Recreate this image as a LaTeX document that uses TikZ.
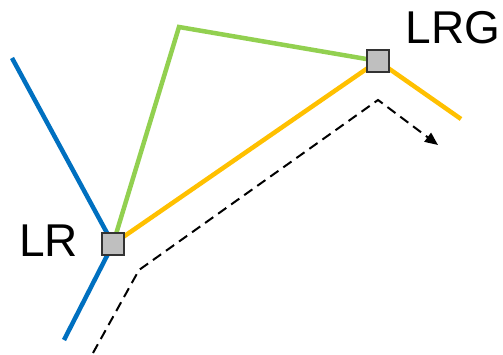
\documentclass[tikz,border=0pt]{standalone}
\usepackage{fontspec}
\setmainfont{Liberation Sans}
\usetikzlibrary{arrows.meta,backgrounds}
\definecolor{lblue}{HTML}{0070C0}
\definecolor{lgreen}{HTML}{92D050}
\definecolor{lorange}{HTML}{FFC000}
\definecolor{lgray}{HTML}{BFBFBF}
\begin{document}
\begin{tikzpicture}[x=1pt,y=-1pt,
  router/.style={draw=black!80,fill=lgray,line width=1.2pt,minimum size=22pt,inner sep=0pt},
  route/.style={line width=4.5pt},
  lbl/.style={font=\fontsize{46}{46}\selectfont,inner sep=0pt},
  flow/.style={line width=2pt,dash pattern=on 10pt off 6pt,-{Triangle[length=13pt,width=11pt]}}]
\useasboundingbox (0,0) rectangle (503,355);
\node[router] (lr) at (113,244) {};
\node[router] (lrg) at (378,61) {};
\node[lbl] (lrlabel) at (48.5,241) {LR};
\node[lbl] (lrglabel) at (453,28) {LRG};
\coordinate (b1) at (12,58);
\coordinate (b2) at (64,340);
\coordinate (g1) at (179,27);
\coordinate (o1) at (461,119);
\coordinate (d1) at (93,353);
\coordinate (d2) at (139,270);
\coordinate (d3) at (378,100);
\coordinate (d4) at (438,145);
\begin{pgfonlayer}{background}
\draw[route,lblue] (b1) -- (lr.center) -- (b2);
\draw[route,lgreen] (lr.center) -- (g1) -- (lrg.center);
\draw[route,lorange] (lr.center) -- (lrg.center) -- (o1);
\end{pgfonlayer}
\draw[flow] (d1) -- (d2) -- (d3) -- (d4);
\end{tikzpicture}
\end{document}
